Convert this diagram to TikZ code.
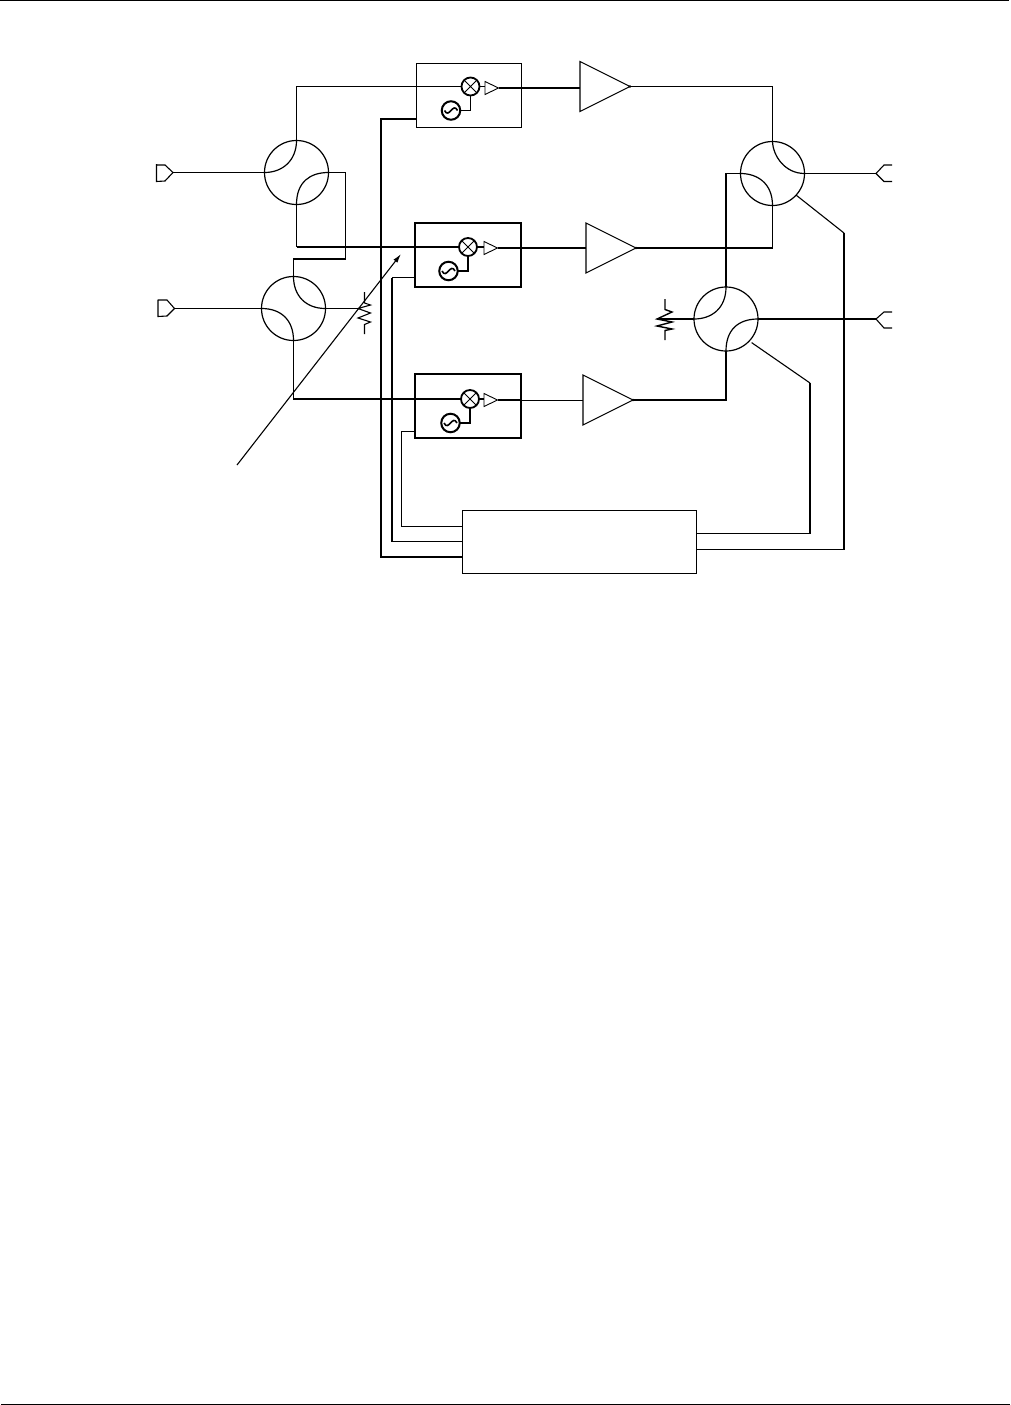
\documentclass[tikz,border=0pt]{standalone}
\usetikzlibrary{arrows.meta}
\tikzset{
  thinw/.style={line width=1.1pt},
  thickw/.style={line width=1.8pt},
  ctlw/.style={line width=1.4pt},
  arcw/.style={line width=1.2pt},
  coupler/.style={circle,draw,line width=1.2pt,minimum size=64pt,inner sep=0pt,outer sep=0pt},
  blockbox/.style={rectangle,draw,line width=1.1pt,inner sep=0pt,outer sep=0pt},
  mixer/.style={circle,draw,line width=1.8pt,minimum size=18pt,inner sep=0pt,outer sep=0pt},
  losc/.style={circle,draw,line width=2pt,minimum size=18.5pt,inner sep=0pt,outer sep=0pt},
}
\newcommand{\bigamp}[3]{% name, x of input, y of centre
  \draw[line width=1.1pt,line join=miter] (#2,#3-25) -- (#2,#3+25) -- (#2+50,#3) coordinate (#1out) -- cycle;
  \fill (#1out) circle (1.3pt);
  \coordinate (#1in) at (#2,#3);
}
\newcommand{\smallamp}[3]{%
  \draw[line width=0.9pt] (#2,#3-6.5) -- (#2,#3+6.5) -- (#2+13.5,#3) coordinate (#1out) -- cycle;
  \coordinate (#1in) at (#2,#3);
}
\newcommand{\mixlo}[3]{% suffix, mixer x, mixer y; LO is offset
  \node[mixer] (mx#1) at (#2,#3) {};
  \draw[line width=1pt] (mx#1.north west) -- (mx#1.south east) (mx#1.north east) -- (mx#1.south west);
  \node[losc] (lo#1) at (#2-19.5,#3+24) {};
  \draw[line width=1.6pt] ([xshift=-6.5pt]lo#1.center) .. controls ([shift={(-2pt,-9pt)}]lo#1.center) and ([shift={(2pt,9pt)}]lo#1.center) .. ([xshift=6.5pt]lo#1.center);
  \draw[thinw] (lo#1.east) -| (mx#1.south);
}
\begin{document}
\begin{tikzpicture}[x=1pt,y=-1pt]
\useasboundingbox (0,0) rectangle (1010,1405);
% page rules
\coordinate (tl) at (0,0.6); \coordinate (tr) at (1009,0.6);
\coordinate (bl) at (1,1404.3); \coordinate (br) at (1010,1404.3);
\draw[line width=1.2pt] (tl) -- (tr);
\draw[line width=1.2pt] (bl) -- (br);
% couplers
\node[coupler] (c1) at (296.5,172.5) {};
\node[coupler] (c2) at (293.5,308.5) {};
\node[coupler] (c3) at (772.5,173.5) {};
\node[coupler] (c4) at (726,319) {};
\draw[arcw] (c1.west) .. controls (283,172.5) and (296.5,160) .. (c1.north);
\draw[arcw] (c1.east) .. controls (310,172.5) and (296.5,182) .. (c1.south);
\draw[arcw] (c2.north) .. controls (293.5,296) and (306,308.5) .. (c2.east);
\draw[arcw] (c2.west) .. controls (281,308.5) and (293.5,320) .. (c2.south);
\draw[arcw] (c3.north) .. controls (773,156) and (785,173.5) .. (c3.east);
\draw[arcw] (c3.west) .. controls (757,173.5) and (772.5,183) .. (c3.south);
\draw[arcw] (c4.west) .. controls (712,319) and (726,308) .. (c4.north);
\draw[arcw] (c4.east) .. controls (738,319) and (726,330) .. (c4.south);
% boxes
\node[blockbox,minimum width=105pt,minimum height=64pt] (b1) at (469,95.5) {};
\node[blockbox,minimum width=106pt,minimum height=64pt] (b2) at (468,255) {};
\node[blockbox,minimum width=106pt,minimum height=64pt] (b3) at (468,406) {};
\draw[line width=1.7pt] (b2.north east) -- (b2.south east);
\draw[line width=1.7pt] (b3.north east) -- (b3.south east);
\node[blockbox,minimum width=234pt,minimum height=63pt] (ctl) at (579.5,542) {};
% mixers, oscillators, small amplifiers
\mixlo{A}{470.5}{86.5}
\mixlo{B}{468}{247}
\mixlo{C}{470}{399}
\smallamp{sa}{485}{88}
\smallamp{sb}{484}{248}
\smallamp{sc}{484}{400}
\draw[thinw] (mxA.east) -- (mxA.east-|sain);
\draw[thinw] (mxB.east) -- (mxB.east-|sbin);
\draw[thinw] (mxC.east) -- (mxC.east-|scin);
% large amplifiers
\bigamp{pa}{580}{86.5}
\bigamp{pb}{586}{248}
\bigamp{pc}{583}{400}
% ports
\coordinate (p1) at (173,172.5);
\coordinate (p2) at (174.5,308.5);
\coordinate (p3) at (876,173.5);
\coordinate (p4) at (876,319);
\draw[line width=1.1pt] (156.5,164) -- (156.5,182) (156.5,165) -- (165,165) -- (p1) -- (165,181) -- (156.5,181.5);
\draw[line width=1.1pt] (158,299.5) -- (158,317) (158,300) -- (167,300) -- (p2) -- (167,316) -- (158,316.5);
\draw[line width=1.1pt] (892,165) -- (884,165) -- (p3) -- (884,181.5) -- (892,181.5);
\draw[line width=1.1pt] (892,312) -- (884,312) -- (p4) -- (884,328) -- (892,328);
% input side
\draw[thinw] (p1) -- (c1.west);
\draw[thinw] (p2) -- (c2.west);
\draw[thinw] (c1.north) |- (mxA.west);
\draw[thinw] (c1.south) -- (c1.south|-mxB.west);
\draw[thickw] (c1.south|-mxB.west) -- (mxB.west);
\coordinate (xo) at (345.5,259);
\draw[thinw] (c1.east) -| (xo);
\draw[thickw] (xo) -| (c2.north);
\draw[thickw] (c2.south) |- (mxC.west);
% resistor R1
\coordinate (r1) at (358,308.5);
\coordinate (r1a) at (364.5,292);
\coordinate (r1b) at (364.5,334);
\draw[thinw] (c2.east) -- (r1);
\draw[thinw,line join=miter] (r1a) -- (364.5,303) -- (370.5,305) -- (r1) -- (370.5,313) -- (358,318) -- (370.5,322) -- (364.5,324.5) -- (r1b);
% tuning arrow
\coordinate (ta) at (237,465);
\coordinate (tb) at (401,254);
\draw[line width=1.1pt,-{Latex[length=9pt,width=5pt]}] (ta) -- (tb);
% mixer outputs and amp inputs
\draw[thickw] (saout) -- (saout-|pain);
\draw[thickw] (sbout) -- (sbout-|pbin);
\coordinate (b3out) at (521,400);
\coordinate (pciw) at (583,400.5);
\draw[thickw] (scout) -- (b3out);
\draw[thinw] (b3out|-pciw) -- (pciw);
% power amp outputs to couplers
\draw[thinw] (paout) -- (paout-|c3.north);
\draw[thickw] (paout-|c3.north) -- (c3.north);
\draw[thickw] (pbout) -| (c3.south);
\draw[thickw] (pcout) -| (c4.south);
\draw[thickw] (c4.north) |- (c3.west);
\draw[thinw] (c3.east) -- (p3);
\draw[thickw] (c4.east) -- (p4);
% resistor R2
\coordinate (r2) at (657,319);
\coordinate (r2a) at (665,299);
\coordinate (r2b) at (665,340);
\draw[line width=1.4pt] (c4.west) -- (r2);
\draw[line width=1.4pt,line join=miter] (r2a) -- (665,309.5) -- (672,312) -- (r2) -- (672,322) -- (657,326) -- (672,329) -- (665,330.5) -- (r2b);
% control lines
\coordinate (s1) at (844,233);
\coordinate (s2) at (810,383);
\coordinate (s1b) at (844,549.5);
\coordinate (s2b) at (810,533.5);
\draw[thinw] (c3.south east) ++(1,-1) -- (s1);
\draw[thinw] (c4.south east) ++(3,1) -- (s2);
\draw[ctlw] (s1) -- (s1b);
\draw[thinw] (s1b) -- (s1b-|ctl.east);
\draw[ctlw] (s2) -- (s2b);
\draw[thinw] (s2b) -- (s2b-|ctl.east);
\coordinate (w1) at (381,119);
\coordinate (w1b) at (381,557);
\coordinate (w2) at (392,277.5);
\coordinate (w2b) at (392,541.5);
\coordinate (w3) at (401.5,431.5);
\coordinate (w3b) at (401.5,526.5);
\draw[thickw] (w1-|b1.west) -- (w1) -- (w1b) -- (w1b-|ctl.west);
\draw[thinw] (w2-|b2.west) -- (w2);
\draw[thickw] (w2) -- (w2b);
\draw[thinw] (w2b) -- (w2b-|ctl.west);
\draw[thinw] (w3-|b3.west) -- (w3) -- (w3b) -- (w3b-|ctl.west);
\end{tikzpicture}
\end{document}
